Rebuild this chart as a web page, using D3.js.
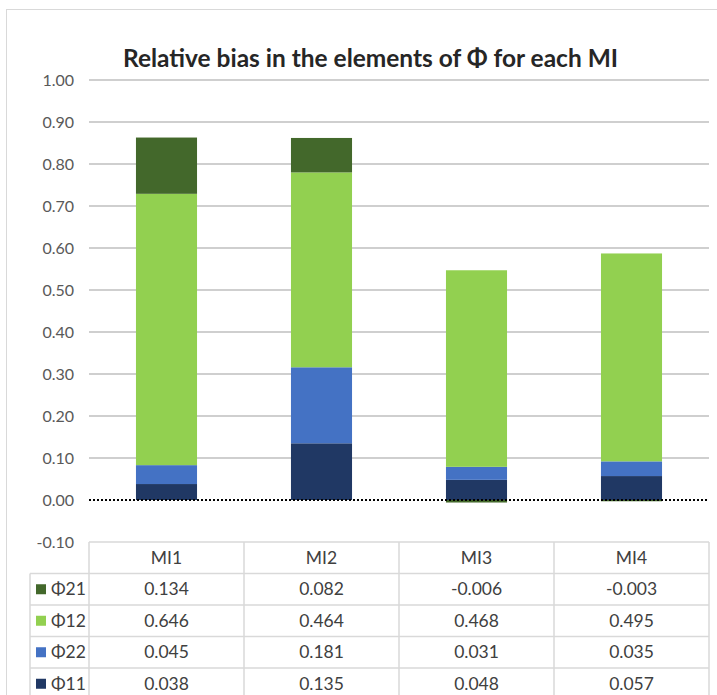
<!DOCTYPE html>
<html>
<head>
<meta charset="utf-8">
<script src="https://cdn.jsdelivr.net/npm/d3@7"></script>
<style>
  html, body { margin: 0; padding: 0; background: #fff; }
  svg { display: block; }
  text { font-family: Lato, "Open Sans", "Liberation Sans", sans-serif; }
</style>
</head>
<body>
<svg id="chart" width="717" height="695"></svg>
<script>
// Categories (multiple imputation runs) and series, bottom of the stack first
const categories = ["MI1", "MI2", "MI3", "MI4"];
const seriesNames = ["Φ11", "Φ22", "Φ12", "Φ21"];
const phi11 = [0.038, 0.135, 0.048, 0.057];
const phi22 = [0.045, 0.181, 0.031, 0.035];
const phi12 = [0.646, 0.464, 0.468, 0.495];
const phi21 = [0.134, 0.082, -0.006, -0.003];
const yTicks = [-0.1, 0, 0.1, 0.2, 0.3, 0.4, 0.5, 0.6, 0.7, 0.8, 0.9, 1.0];
const colors = ["#203864", "#4472c4", "#92d050", "#43682b"];
// Data table row order (top to bottom)
const tableOrder = ["Φ21", "Φ12", "Φ22", "Φ11"];

const seriesValues = { "Φ11": phi11, "Φ22": phi22, "Φ12": phi12, "Φ21": phi21 };
const rows = categories.map((c, i) => {
  const r = { cat: c };
  seriesNames.forEach(s => { r[s] = seriesValues[s][i]; });
  return r;
});

// plain hyphen for negatives
const fmt2 = v => d3.format(".2f")(v).replace("\u2212", "-");
const fmt3 = v => d3.format(".3f")(v).replace("\u2212", "-");

const svg = d3.select("#chart");

// chart frame
svg.append("rect")
  .attr("x", 6.5).attr("y", 9.5).attr("width", 740).attr("height", 720)
  .attr("fill", "#fff").attr("stroke", "#d9d9d9").attr("stroke-width", 1);

const plotLeft = 89, plotRight = 709;
const x = d3.scaleBand().domain(categories).range([plotLeft, plotRight])
  .paddingInner(0.606).paddingOuter(0.303);
const y = d3.scaleLinear().domain([-0.1, 1.0]).range([542, 80]);

// title
svg.append("text")
  .attr("x", 123).attr("y", 67)
  .attr("font-size", 24).attr("font-weight", "bold").attr("fill", "#262626")
  .attr("textLength", 495).attr("lengthAdjust", "spacingAndGlyphs")
  .text("Relative bias in the elements of Φ for each MI");

// gridlines
svg.append("g").selectAll("line")
  .data(yTicks.filter(t => t > 0))
  .join("line")
  .attr("x1", plotLeft).attr("x2", plotRight)
  .attr("y1", d => y(d)).attr("y2", d => y(d))
  .attr("stroke", "#bfbfbf").attr("stroke-width", 1.5);

// y axis labels
const yAxis = d3.axisLeft(y).tickValues(yTicks).tickFormat(fmt2).tickSize(0).tickPadding(0);
const gy = svg.append("g").attr("transform", "translate(74,0)").call(yAxis);
gy.select(".domain").remove();
gy.attr("font-size", null).attr("font-family", null);
gy.selectAll("text").attr("font-size", 16).attr("fill", "#595959");

// stacked bars
const stack = d3.stack().keys(seriesNames).offset(d3.stackOffsetDiverging);
const stacked = stack(rows);
svg.append("g").selectAll("g")
  .data(stacked)
  .join("g")
  .attr("fill", (d, i) => colors[i])
  .selectAll("rect")
  .data(d => d)
  .join("rect")
  .attr("x", d => x(d.data.cat))
  .attr("width", x.bandwidth())
  .attr("y", d => y(Math.max(d[0], d[1])))
  .attr("height", d => Math.abs(y(d[0]) - y(d[1])));

// zero line (dotted)
svg.append("line")
  .attr("x1", plotLeft).attr("x2", plotRight)
  .attr("y1", y(0)).attr("y2", y(0))
  .attr("stroke", "#000").attr("stroke-width", 2)
  .attr("stroke-dasharray", "2,2");

// data table
const headerTop = y(-0.1);
const rowH = 31.5;
const legendLeft = 30;
const tbl = svg.append("g");
const borderColor = "#d9d9d9";
const nRows = tableOrder.length;
const tableBottom = headerTop + rowH * (nRows + 1);

// horizontal lines
tbl.append("line").attr("x1", plotLeft).attr("x2", plotRight)
  .attr("y1", headerTop).attr("y2", headerTop)
  .attr("stroke", borderColor).attr("stroke-width", 1.5);
d3.range(1, nRows + 2).forEach(k => {
  tbl.append("line").attr("x1", legendLeft).attr("x2", plotRight)
    .attr("y1", headerTop + k * rowH).attr("y2", headerTop + k * rowH)
    .attr("stroke", borderColor).attr("stroke-width", 1.5);
});
// vertical lines
const step = x.step();
d3.range(0, categories.length + 1).forEach(k => {
  const xv = plotLeft + k * step;
  tbl.append("line").attr("x1", xv).attr("x2", xv)
    .attr("y1", headerTop).attr("y2", tableBottom)
    .attr("stroke", borderColor).attr("stroke-width", 1.5);
});
tbl.append("line").attr("x1", legendLeft).attr("x2", legendLeft)
  .attr("y1", headerTop + rowH).attr("y2", tableBottom)
  .attr("stroke", borderColor).attr("stroke-width", 1.5);

// header labels
tbl.selectAll("text.hdr").data(categories).join("text")
  .attr("class", "hdr")
  .attr("x", d => x(d) + x.bandwidth() / 2)
  .attr("y", headerTop + rowH / 2)
  .attr("dy", "0.35em").attr("text-anchor", "middle")
  .attr("font-size", 17.5).attr("fill", "#404040")
  .text(d => d);

// value rows with legend keys
tableOrder.forEach((s, r) => {
  const cy = headerTop + (r + 1) * rowH + rowH / 2;
  const ci = seriesNames.indexOf(s);
  tbl.append("rect").attr("x", 36).attr("y", cy - 5).attr("width", 10).attr("height", 10)
    .attr("fill", colors[ci]);
  tbl.append("text").attr("x", 51).attr("y", cy).attr("dy", "0.35em")
    .attr("font-size", 17.5).attr("fill", "#404040").text(s);
  categories.forEach((c, i) => {
    tbl.append("text")
      .attr("x", x(c) + x.bandwidth() / 2).attr("y", cy).attr("dy", "0.35em")
      .attr("text-anchor", "middle").attr("font-size", 17.5).attr("fill", "#404040")
      .text(fmt3(seriesValues[s][i]));
  });
});
</script>
</body>
</html>
